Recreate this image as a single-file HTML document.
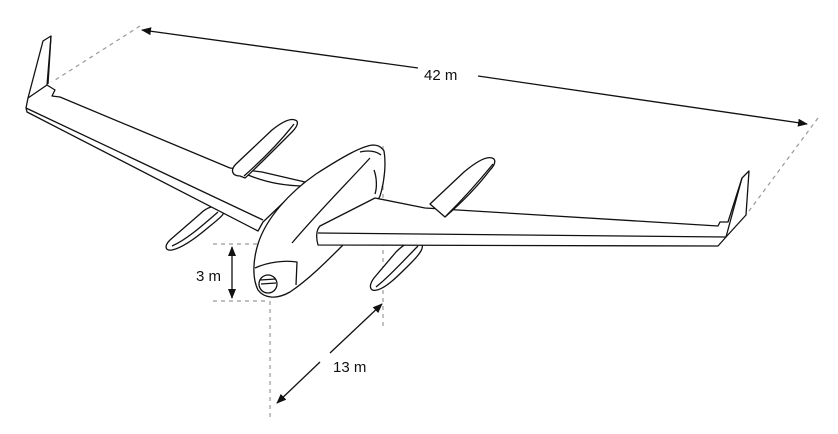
<!DOCTYPE html>
<html><head><meta charset="utf-8"><style>
html,body{margin:0;padding:0;background:#fff;}
svg{display:block;}
text{font-family:"Liberation Sans",sans-serif;font-size:15px;fill:#111;}
</style></head><body>
<svg width="838" height="434" viewBox="0 0 838 434" xmlns="http://www.w3.org/2000/svg">
<defs>
<marker id="ah" markerWidth="10" markerHeight="8" refX="9" refY="4" orient="auto" markerUnits="userSpaceOnUse">
<path d="M0,0 L10,4 L0,8 Z" fill="#111"/></marker>
</defs>
<g fill="none" stroke="#999" stroke-width="1.2" stroke-dasharray="4,4">
<line x1="140" y1="26" x2="52" y2="82"/>
<line x1="818" y1="118" x2="746" y2="215"/>
<line x1="383" y1="146" x2="383" y2="328"/>
<line x1="213" y1="244" x2="265" y2="244"/>
<line x1="213" y1="301" x2="268" y2="301"/>
<line x1="270" y1="301" x2="270" y2="420"/>
</g>
<g fill="none" stroke="#111" stroke-width="1.3">
<line x1="418" y1="68" x2="142" y2="30" marker-end="url(#ah)"/>
<line x1="478" y1="76" x2="807" y2="124" marker-end="url(#ah)"/>
<line x1="232" y1="272" x2="232" y2="247" marker-end="url(#ah)"/>
<line x1="232" y1="272" x2="232" y2="298" marker-end="url(#ah)"/>
<line x1="330" y1="353" x2="382" y2="304" marker-end="url(#ah)"/>
<line x1="320" y1="362" x2="277" y2="403" marker-end="url(#ah)"/>
</g>
<text x="424" y="80">42 m</text>
<text x="196" y="281">3 m</text>
<text x="333" y="372">13 m</text>
<g fill="#fff" stroke="#111" stroke-width="1.3" stroke-linejoin="round">
<path d="M222,208 C214,204 206,208 200,214 L170,240 C164,246 165,251 172,250 C182,248 196,238 210,226 C220,218 228,212 222,208 Z"/>
<path d="M172,246 C186,240 202,226 218,212" />
<path d="M51,36 L43,41 L28,98 L26,108 L27,112 L258,231 L263,222 L305,182 L262,172 L230,168 L60,97 L52,96 L55,90 L47,85 Z"/>
<path d="M47,85 L28,98 M51,36 L48,84 M26,108 L263,220"/>
<path d="M295,120 C290,118 282,122 272,130 L236,164 C230,170 232,176 240,176 L245,178 C252,172 270,154 292,132 C298,126 299,121 295,120 Z"/>
<path d="M244,176 C262,160 280,142 294,124"/>
<path d="M248,175 C265,182 285,186 305,186"/>
<path d="M420,243 C412,239 404,244 396,252 L374,278 C368,286 370,292 377,290 C386,288 398,276 410,264 C420,254 426,246 420,243 Z"/>
<path d="M376,287 C390,276 404,260 418,246"/>
<path d="M373,145 C362,146 344,156 316,174 C290,192 266,218 258,244 C253,260 252,278 258,290 C264,298 276,300 290,292 C308,280 326,262 342,246 C358,228 372,212 380,196 C385,180 386,162 384,151 C381,146 377,145 373,145 Z"/>
<path d="M292,243 C320,210 350,180 370,158"/>
<path d="M255,268 C268,262 285,260 297,262 L296,285"/>
<path d="M360,152 C368,150 376,151 381,155"/>
<path d="M374,170 C377,178 377,188 375,194" fill="none"/>
<circle cx="268" cy="284" r="9"/>
<path d="M260,280 L276,279 M261,284 L276,283"/>
<path d="M375,198 L320,226 C316,230 316,238 318,245 L718,246 L726,237 L746,215 L749,171 L742,178 L728,222 L720,222 L718,226 L425,208 Z"/>
<path d="M318,233 L726,237"/>
<path d="M742,178 L726,237"/>
<path d="M492,158 C486,156 476,162 464,172 L430,204 L445,217 C460,204 478,186 490,170 C496,164 496,159 492,158 Z" />
<path d="M446,216 C462,200 480,180 493,164"/>
</g>
</svg>
</body></html>
